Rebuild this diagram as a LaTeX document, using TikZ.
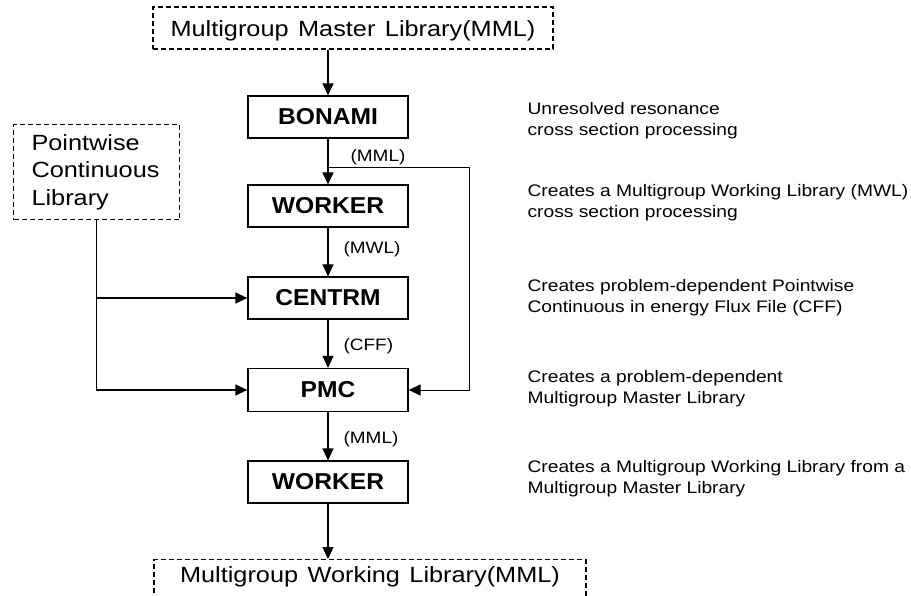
\documentclass[tikz,border=0pt]{standalone}
\usepackage{fontspec}
\setmainfont{Liberation Sans}[FakeStretch=1.15]
\newfontfamily\stagefont{Liberation Sans}[FakeStretch=1.07]
\newfontfamily\libfont{Liberation Sans}[FakeStretch=1.15, WordSpace=1.35]
\usetikzlibrary{arrows.meta,calc}

\begin{document}
\begin{tikzpicture}[x=1pt,y=-1pt,
  line width=1.2pt,
  flow/.style={-{Triangle[width=11pt,length=12pt]}},
  stage/.style={draw, minimum width=160pt, minimum height=42pt, inner sep=0pt,
    font=\stagefont\bfseries\fontsize{23}{27}\selectfont},
  source/.style={draw, dash pattern=on 5pt off 3pt, line width=1.1pt},
  tag/.style={anchor=base west, inner sep=0pt, font=\fontsize{16.5}{20}\selectfont},
  note/.style={anchor=north west, inner sep=0pt, align=left,
    font=\fontsize{16.7}{21}\selectfont}
]
\useasboundingbox (0,0) rectangle (911,596);
\clip (0,0) rectangle (911,596);

% input libraries
\node[source, minimum width=400pt, minimum height=42pt, inner sep=0pt,
  text height=20pt, text depth=2pt, font=\libfont\fontsize{22}{26}\selectfont]
  (mml) at (353,28) {Multigroup Master Library(MML)};
\node[source, anchor=north west, text width=130pt, inner xsep=18pt, inner ysep=0pt,
  minimum height=95pt, align=left, font=\fontsize{22}{27.5}\selectfont]
  (pcl) at (13,124) {Pointwise\\Continuous\\Library};

% processing modules
\node[stage] (bonami) at (328,117) {BONAMI};
\node[stage] (worker) at (328,206) {WORKER};
\node[stage] (centrm) at (328,298) {CENTRM};
\node[stage, minimum height=43pt] (pmc) at (328,390) {PMC};
\node[stage] (worker2) at (328,482) {WORKER};

% output library (runs past the lower edge)
\node[source, minimum width=432pt, anchor=north, text height=16pt, text depth=30pt,
  inner ysep=7pt, inner xsep=0pt, font=\libfont\fontsize{22}{26}\selectfont]
  (mwl) at (370,559) {Multigroup Working Library(MML)};

% main chain
\draw[flow] (mml.south -| bonami) -- (bonami);
\draw[flow] (bonami) -- (worker);
\draw[flow] (worker) -- (centrm);
\draw[flow] (centrm) -- (pmc);
\draw[flow] (pmc) -- (worker2);
\draw[flow] (worker2) -- (worker2 |- mwl.north);

% bypass of the master library around WORKER and CENTRM
\path (bonami.south) ++(0,29) coordinate (split);
\coordinate (bypass) at (469,0);
\draw[flow, line width=1pt] (split) -- (split -| bypass) |- (pmc.east);

% pointwise data feeds
\draw[flow] (pcl.south) |- (pmc.west);
\draw[flow] (pcl.south |- centrm.west) -- (centrm.west);

% file labels
\node[tag] (t1) at (350,162) {(MML)};
\node[tag] (t2) at (343,254) {(MWL)};
\node[tag] (t3) at (343,351) {(CFF)};
\node[tag] (t4) at (343,443) {(MML)};

% module descriptions
\node[note] (n1) at (527,102) {Unresolved resonance\\cross section processing};
\node[note] (n2) at (527,184) {Creates a Multigroup Working Library (MWL)\\cross section processing};
\node[note] (n3) at (527,279) {Creates problem-dependent Pointwise\\Continuous in energy Flux File (CFF)};
\node[note] (n4) at (527,370) {Creates a problem-dependent\\Multigroup Master Library};
\node[note] (n5) at (527,460) {Creates a Multigroup Working Library from a\\Multigroup Master Library};
\end{tikzpicture}
\end{document}
